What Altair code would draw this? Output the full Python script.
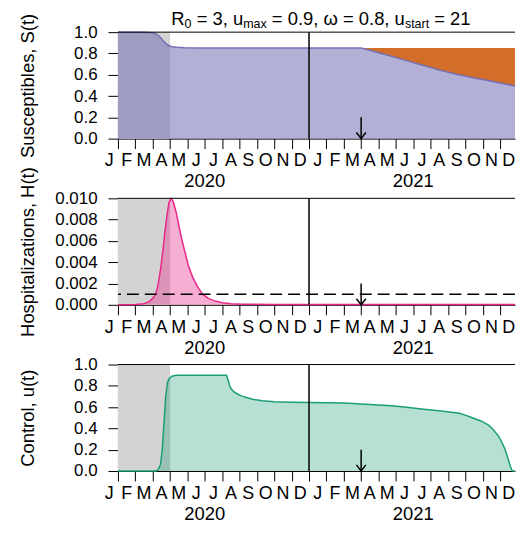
import altair as alt
import pandas as pd

FONT = "Liberation Sans"
XMIN, XMAX = 1.0, 23.86
W, H = 399, 107

# ---- axis / label data ----
month_letters = list("JFMAMJJASOND") * 2
month_centers = [i + 0.5 for i in range(24)]
years = ["2020", "2021"]
year_centers = [6, 18]
tick_months = list(range(1, 24))

# shaded (pre-data) window, vertical divider, vaccination arrow
gray_start, gray_end = 1, 4
vline_m = 12
arrow_m = 15

# ---- S(t) susceptibles ----
S_m = [1, 2.5, 3.0, 3.25, 3.45, 3.6, 3.75, 3.9, 4.05, 4.4, 4.85, 6, 8, 10, 12, 14, 15,
       15.5, 16, 16.75, 17.5, 18.6, 19.5, 20.5, 21.5, 22.3, 23, 23.86]
S_v = [1.0, 1.0, 0.995, 0.98, 0.95, 0.92, 0.895, 0.877, 0.865, 0.858, 0.854, 0.852, 0.852,
       0.852, 0.852, 0.852, 0.852, 0.83, 0.807, 0.773, 0.737, 0.686, 0.645, 0.605, 0.570,
       0.545, 0.522, 0.494]
S_novacc = 0.852

# ---- H(t) hospitalizations ----
H_m = [1, 2.0, 2.5, 2.79, 3.0, 3.17, 3.3, 3.45, 3.58, 3.7, 3.82, 3.94, 4.06, 4.18, 4.35,
       4.5, 4.65, 4.85, 5.05, 5.3, 5.58, 5.87, 6.2, 6.6, 7.0, 7.5, 8.2, 10, 23.86]
H_v = [0.0, 0.00003, 0.0001, 0.0003, 0.0006, 0.001, 0.0018, 0.0033, 0.005, 0.0068, 0.0084,
       0.0096, 0.0100, 0.0097, 0.0087, 0.0075, 0.0063, 0.005, 0.0037, 0.0026, 0.0017, 0.001,
       0.0006, 0.00035, 0.0002, 0.0001, 0.00005, 0.00003, 0.00003]
H_threshold = 0.001

# ---- u(t) control ----
U_m = [1, 3.2, 3.3, 3.45, 3.55, 3.65, 3.75, 3.85, 3.95, 4.1, 4.35, 7.25, 7.35, 7.45, 7.6,
       7.8, 8.1, 8.4, 8.8, 9.3, 10, 11, 12, 13, 14, 15, 16, 16.75, 17.5, 18.6, 19.5, 20.66,
       21.0, 21.4, 21.9, 22.34, 22.6, 22.9, 23.1, 23.27, 23.45, 23.6, 23.7, 23.86]
U_v = [0, 0, 0.01, 0.06, 0.2, 0.45, 0.7, 0.83, 0.87, 0.89, 0.9, 0.9, 0.85, 0.79, 0.755,
       0.73, 0.705, 0.69, 0.672, 0.66, 0.65, 0.645, 0.643, 0.642, 0.638, 0.63, 0.62, 0.612,
       0.6, 0.58, 0.565, 0.543, 0.525, 0.50, 0.47, 0.43, 0.39, 0.33, 0.27, 0.21, 0.12, 0.04,
       0.0, 0.0]

PURPLE, ORANGE, PINK, GREEN = "#7570b3", "#d95f02", "#e7298a", "#1b9e77"
GRAY = "#d3d3d3"

# Arial/Liberation Sans advance widths (per 1000 em) for the title
ADV = {" ": 278, ",": 278, ".": 278, "=": 584, "R": 722, "u": 556, "m": 833, "a": 556,
       "x": 500, "s": 500, "t": 278, "r": 333, "ω": 781}
for d in "0123456789":
    ADV[d] = 556


def text_w(s, size):
    return sum(ADV.get(c, 556) for c in s) * size / 1000.0


TITLE_F, TITLE_S = 18.5, 12.5
TITLE_CENTER = 204
title_parts = [("R", False), ("0", True), (" = 3, u", False), ("max", True),
               (" = 0.9, ω = 0.8, u", False), ("start", True), (" = 21", False)]

AX_COMMON = dict(tickSize=10, grid=False, domainColor="black", tickColor="black",
                 tickWidth=1, domainWidth=1)
X_SCALE = alt.Scale(domain=[XMIN, XMAX], nice=False, zero=False)
X_AXIS = alt.Axis(values=tick_months, labels=False, title=None, **AX_COMMON)


def y_scale(ymax):
    return alt.Scale(domain=[0, ymax], nice=False, zero=True)


def y_axis(vals, fmt, title):
    return alt.Axis(values=vals, format=fmt, labelPadding=11, labelOverlap=False,
                    labelFlush=False, title=title, titleX=-81, titleFontSize=18.5,
                    titleFontWeight="normal", labelFontSize=17, **AX_COMMON)


df_months = pd.DataFrame({"m": month_centers, "t": month_letters})
df_years = pd.DataFrame({"m": year_centers, "t": years})


def build_panel(ymax, yvals, yfmt, ytitle, arrow_len, data_layers, extra=None):
    ys = y_scale(ymax)
    ya = y_axis(yvals, yfmt, ytitle)

    def X(field=None, datum=None):
        if datum is not None:
            return alt.X(datum=datum, type="quantitative", scale=X_SCALE, axis=X_AXIS)
        return alt.X(field, type="quantitative", scale=X_SCALE, axis=X_AXIS)

    def Y(field=None, datum=None):
        if datum is not None:
            return alt.Y(datum=datum, type="quantitative", scale=ys, axis=ya)
        return alt.Y(field, type="quantitative", scale=ys, axis=ya)

    layers = [alt.Chart().mark_rect(color=GRAY).encode(
        x=X(datum=gray_start), x2=alt.X2(datum=gray_end),
        y=Y(datum=0), y2=alt.Y2(datum=ymax))]
    layers += data_layers(X, Y)
    layers.append(alt.Chart().mark_rule(color="black", strokeWidth=1.5).encode(
        x=X(datum=vline_m)))
    layers.append(alt.Chart().mark_rule(color="black", strokeWidth=1).encode(
        y=Y(datum=ymax)))
    layers.append(alt.Chart().mark_rule(color="black", strokeWidth=1.5).encode(
        x=X(datum=arrow_m), y=Y(datum=arrow_len), y2=alt.Y2(datum=0)))
    layers.append(alt.Chart().mark_point(shape="M -1 -1.3 L 0 0 L 1 -1.3", size=90,
                                         filled=False, color="black", strokeWidth=1.5,
                                         opacity=1).encode(
        x=X(datum=arrow_m), y=Y(datum=0)))
    layers.append(alt.Chart(df_months).mark_text(font=FONT, fontSize=18, color="black",
                                                 baseline="alphabetic").encode(
        x=X("m"), y=alt.value(H + 28), text="t:N"))
    layers.append(alt.Chart(df_years).mark_text(font=FONT, fontSize=18.5, color="black",
                                                baseline="alphabetic").encode(
        x=X("m"), y=alt.value(H + 49), text="t:N"))
    if extra:
        layers += extra
    return alt.layer(*layers).properties(width=W, height=H)


# ---------- panel 1 ----------
dfS = pd.DataFrame({"m": S_m, "v": S_v, "top": S_novacc})
dfO = dfS[dfS["m"] >= arrow_m]


def s_layers(X, Y):
    return [
        alt.Chart(dfS).mark_area(color=PURPLE, opacity=0.55).encode(x=X("m"), y=Y("v")),
        # lavender underlay of the no-vaccination level, then the averted-infection band
        alt.Chart(dfO).mark_area(color=PURPLE, opacity=0.55).encode(
            x=X("m"), y=Y("v"), y2="top:Q"),
        alt.Chart(dfO).mark_area(color=ORANGE, opacity=0.82).encode(
            x=X("m"), y=Y("v"), y2="top:Q"),
        alt.Chart(dfS).mark_line(color=PURPLE, strokeWidth=1.5).encode(x=X("m"), y=Y("v")),
    ]


title_layers = []
total = sum(text_w(s, TITLE_S if sub else TITLE_F) for s, sub in title_parts)
xpos = TITLE_CENTER - total / 2
for s, sub in title_parts:
    size = TITLE_S if sub else TITLE_F
    shown = s.lstrip(" ")
    lead = text_w(s[: len(s) - len(shown)], size)
    title_layers.append(alt.Chart().mark_text(text=shown, font=FONT, fontSize=size,
                                              color="black", align="left",
                                              baseline="alphabetic").encode(
        x=alt.value(xpos + lead), y=alt.value(-4 if sub else -7)))
    xpos += text_w(s, size)

p1 = build_panel(1.0, [0, 0.2, 0.4, 0.6, 0.8, 1.0], ".1f", "Susceptibles, S(t)", 0.2,
                 s_layers, title_layers)

# ---------- panel 2 ----------
dfH = pd.DataFrame({"m": H_m, "v": H_v})


def h_layers(X, Y):
    return [
        alt.Chart(dfH).mark_area(color=PINK, opacity=0.38).encode(x=X("m"), y=Y("v")),
        alt.Chart(dfH).mark_line(color=PINK, strokeWidth=1.5).encode(x=X("m"), y=Y("v")),
        alt.Chart().mark_rule(color="black", strokeWidth=1.5, strokeDash=[12, 6]).encode(
            y=Y(datum=H_threshold)),
    ]


p2 = build_panel(0.01, [0, 0.002, 0.004, 0.006, 0.008, 0.010], ".3f",
                 "Hospitalizations, H(t)", 0.002, h_layers)

# ---------- panel 3 ----------
dfU = pd.DataFrame({"m": U_m, "v": U_v})


def u_layers(X, Y):
    return [
        alt.Chart(dfU).mark_area(color=GREEN, opacity=0.32).encode(x=X("m"), y=Y("v")),
        alt.Chart(dfU).mark_line(color=GREEN, strokeWidth=1.5).encode(x=X("m"), y=Y("v")),
    ]


p3 = build_panel(1.0, [0, 0.2, 0.4, 0.6, 0.8, 1.0], ".1f", "Control, u(t)", 0.2, u_layers)

chart = alt.vconcat(p1, p2, p3, spacing=60, bounds="flush").properties(
    padding={"left": 10.5, "top": 1, "right": 0, "bottom": 0}
).configure_view(stroke=None).configure_axis(
    labelFont=FONT, titleFont=FONT, labelColor="black", titleColor="black",
    labelOverlap=False
)

chart.save("out.html", embed_options={"renderer": "svg", "actions": False})
